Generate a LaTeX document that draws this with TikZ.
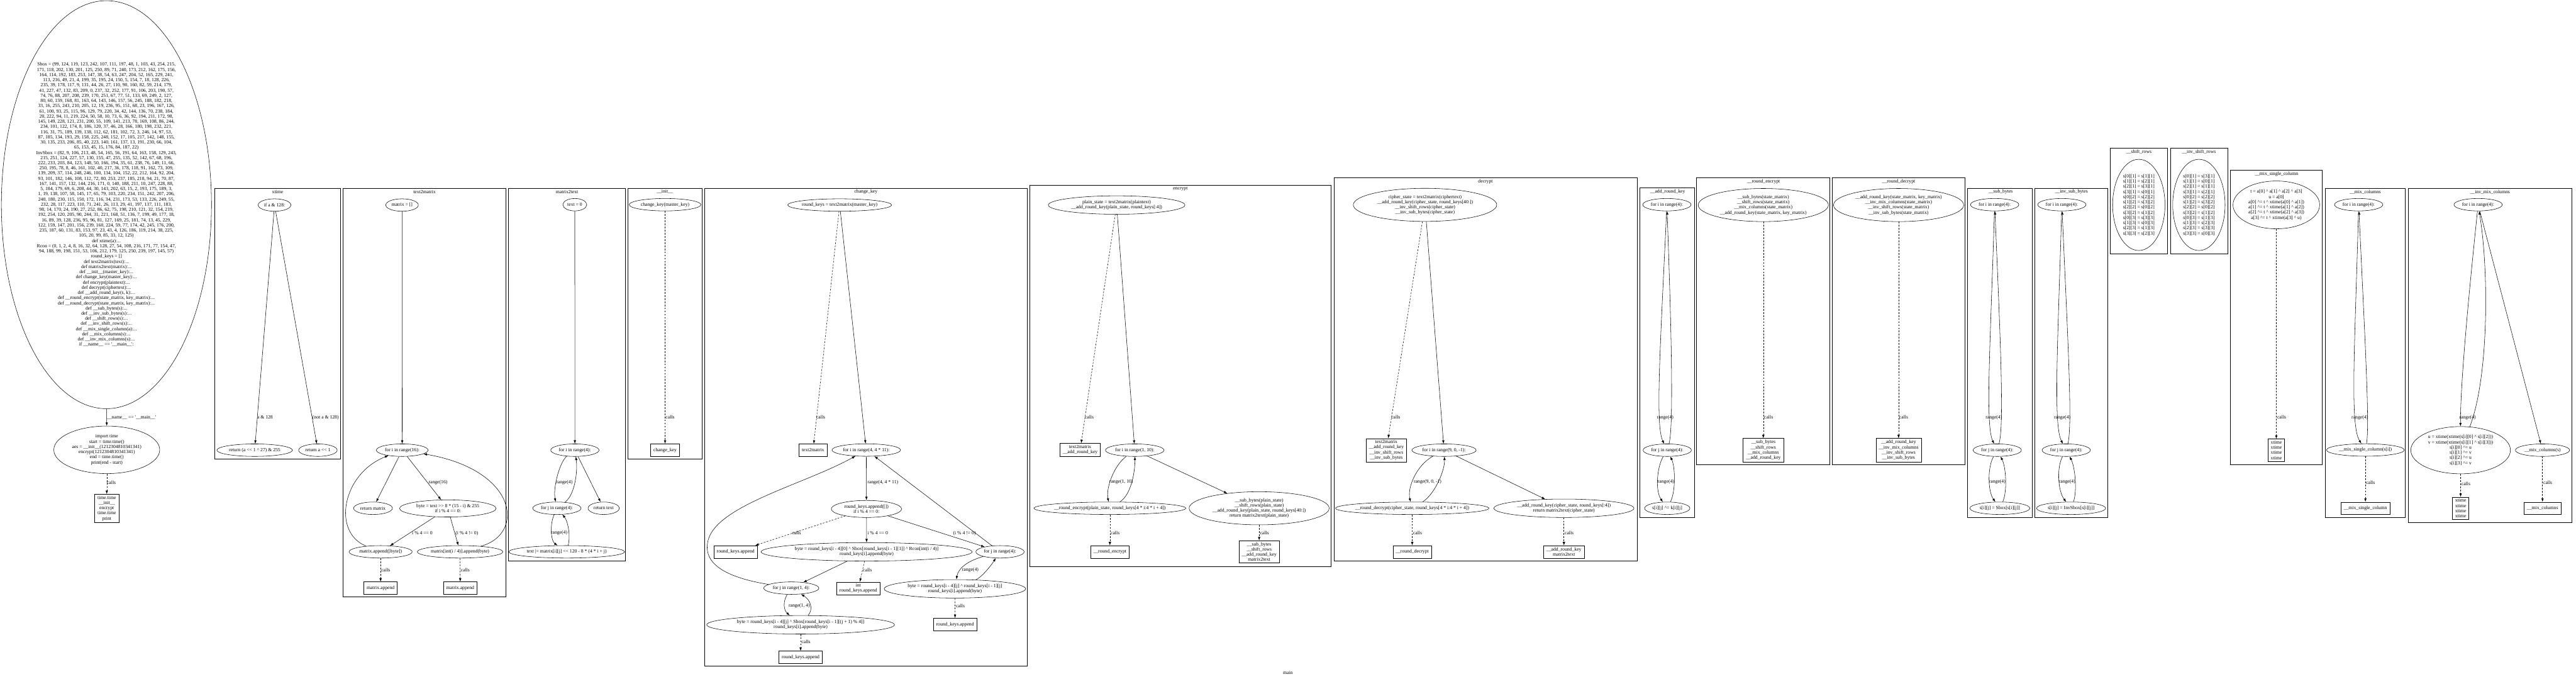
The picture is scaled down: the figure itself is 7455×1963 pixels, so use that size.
\documentclass[tikz,border=0pt]{standalone}
\usepackage{fontspec}
\setmainfont{Liberation Serif}[Ligatures=TeXOff]
\usetikzlibrary{arrows.meta,shapes.geometric}
\newcommand{\xorsym}{\textasciicircum}

\begin{document}
\begin{tikzpicture}[
  x=1bp, y=-1bp,
  every node/.style={font=\fontsize{14bp}{15bp}\selectfont},
  stmt/.style={draw, ellipse, align=center, inner xsep=3bp, inner ysep=5bp,
               minimum height=36bp, minimum width=54bp, line width=1bp},
  mstmt/.style={stmt, inner xsep=8bp},
  callbox/.style={draw, rectangle, align=center, inner xsep=8bp, inner ysep=5bp,
                  minimum height=36bp, line width=1bp},
  cluster/.style={draw, line width=1bp},
  title/.style={inner sep=0pt},
  lbl/.style={inner sep=0pt, anchor=west},
  arr/.style={-{Latex[length=10bp, width=7bp]}, line width=1bp},
  call/.style={arr, dash pattern=on 5bp off 4bp}
]
\useasboundingbox (0,0) rectangle (7455,1963);

% module level
\node[mstmt, minimum width=608bp, minimum height=1180bp] (mod) at (308,592) {Sbox = (99, 124, 119, 123, 242, 107, 111, 197, 48, 1, 103, 43, 254, 215,\\
171, 118, 202, 130, 201, 125, 250, 89, 71, 240, 173, 212, 162, 175, 156,\\
164, 114, 192, 183, 253, 147, 38, 54, 63, 247, 204, 52, 165, 229, 241,\\
113, 216, 49, 21, 4, 199, 35, 195, 24, 150, 5, 154, 7, 18, 128, 226,\\
235, 39, 178, 117, 9, 131, 44, 26, 27, 110, 90, 160, 82, 59, 214, 179,\\
41, 227, 47, 132, 83, 209, 0, 237, 32, 252, 177, 91, 106, 203, 190, 57,\\
74, 76, 88, 207, 208, 239, 170, 251, 67, 77, 51, 133, 69, 249, 2, 127,\\
80, 60, 159, 168, 81, 163, 64, 143, 146, 157, 56, 245, 188, 182, 218,\\
33, 16, 255, 243, 210, 205, 12, 19, 236, 95, 151, 68, 23, 196, 167, 126,\\
61, 100, 93, 25, 115, 96, 129, 79, 220, 34, 42, 144, 136, 70, 238, 184,\\
20, 222, 94, 11, 219, 224, 50, 58, 10, 73, 6, 36, 92, 194, 211, 172, 98,\\
145, 149, 228, 121, 231, 200, 55, 109, 141, 213, 78, 169, 108, 86, 244,\\
234, 101, 122, 174, 8, 186, 120, 37, 46, 28, 166, 180, 198, 232, 221,\\
116, 31, 75, 189, 139, 138, 112, 62, 181, 102, 72, 3, 246, 14, 97, 53,\\
87, 185, 134, 193, 29, 158, 225, 248, 152, 17, 105, 217, 142, 148, 155,\\
30, 135, 233, 206, 85, 40, 223, 140, 161, 137, 13, 191, 230, 66, 104,\\
65, 153, 45, 15, 176, 84, 187, 22)\\
InvSbox = (82, 9, 106, 213, 48, 54, 165, 56, 191, 64, 163, 158, 129, 243,\\
215, 251, 124, 227, 57, 130, 155, 47, 255, 135, 52, 142, 67, 68, 196,\\
222, 233, 203, 84, 123, 148, 50, 166, 194, 35, 61, 238, 76, 149, 11, 66,\\
250, 195, 78, 8, 46, 161, 102, 40, 217, 36, 178, 118, 91, 162, 73, 109,\\
139, 209, 37, 114, 248, 246, 100, 134, 104, 152, 22, 212, 164, 92, 204,\\
93, 101, 182, 146, 108, 112, 72, 80, 253, 237, 185, 218, 94, 21, 70, 87,\\
167, 141, 157, 132, 144, 216, 171, 0, 140, 188, 211, 10, 247, 228, 88,\\
5, 184, 179, 69, 6, 208, 44, 30, 143, 202, 63, 15, 2, 193, 175, 189, 3,\\
1, 19, 138, 107, 58, 145, 17, 65, 79, 103, 220, 234, 151, 242, 207, 206,\\
240, 180, 230, 115, 150, 172, 116, 34, 231, 173, 53, 133, 226, 249, 55,\\
232, 28, 117, 223, 110, 71, 241, 26, 113, 29, 41, 197, 137, 111, 183,\\
98, 14, 170, 24, 190, 27, 252, 86, 62, 75, 198, 210, 121, 32, 154, 219,\\
192, 254, 120, 205, 90, 244, 31, 221, 168, 51, 136, 7, 199, 49, 177, 18,\\
16, 89, 39, 128, 236, 95, 96, 81, 127, 169, 25, 181, 74, 13, 45, 229,\\
122, 159, 147, 201, 156, 239, 160, 224, 59, 77, 174, 42, 245, 176, 200,\\
235, 187, 60, 131, 83, 153, 97, 23, 43, 4, 126, 186, 119, 214, 38, 225,\\
105, 20, 99, 85, 33, 12, 125)\\
def xtime(a):...\\
Rcon = (0, 1, 2, 4, 8, 16, 32, 64, 128, 27, 54, 108, 216, 171, 77, 154, 47,\\
94, 188, 99, 198, 151, 53, 106, 212, 179, 125, 250, 239, 197, 145, 57)\\
round\_keys = []\\
def text2matrix(text):...\\
def matrix2text(matrix):...\\
def \_\_init\_\_(master\_key):...\\
def change\_key(master\_key):...\\
def encrypt(plaintext):...\\
def decrypt(ciphertext):...\\
def \_\_add\_round\_key(s, k):...\\
def \_\_round\_encrypt(state\_matrix, key\_matrix):...\\
def \_\_round\_decrypt(state\_matrix, key\_matrix):...\\
def \_\_sub\_bytes(s):...\\
def \_\_inv\_sub\_bytes(s):...\\
def \_\_shift\_rows(s):...\\
def \_\_inv\_shift\_rows(s):...\\
def \_\_mix\_single\_column(a):...\\
def \_\_mix\_columns(s):...\\
def \_\_inv\_mix\_columns(s):...\\
if \_\_name\_\_ == '\_\_main\_\_':};
\node[mstmt] (mainblk) at (309,1301) {import time\\start = time.time()\\aes = \_\_init\_\_(1212304810341341)\\encrypt(1212304810341341)\\end = time.time()\\print(end - start)};
\node[callbox] (maincalls) at (309,1470.5) {time.time\\\_\_init\_\_\\encrypt\\time.time\\print};
\draw[arr] (mod) -- (mainblk) node[lbl] at (309,1207) {\_\_name\_\_ == '\_\_main\_\_'};
\draw[call] (mainblk) -- (maincalls) node[lbl] at (309,1396) {calls};

% xtime
\draw[cluster] (621.6,544) rectangle (985.5,1328);
\node[title] (t-xtime) at (803.5,555.5) {xtime};
\node[stmt] (xt-if) at (794.5,593) {if a \& 128:};
\node[stmt] (xt-r1) at (737,1302) {return (a << 1 \xorsym{} 27) \& 255};
\node[stmt] (xt-r2) at (920,1302) {return a << 1};
\draw[arr] (xt-if) -- (xt-r1) node[lbl] at (744,1207) {a \& 128};
\draw[arr] (xt-if) -- (xt-r2) node[lbl] at (904,1207) {(not a \& 128)};

% text2matrix
\draw[cluster] (993,544) rectangle (1464,1726.5);
\node[title] (t-t2m) at (1228.5,555.5) {text2matrix};
\node[stmt] (t2m-init) at (1163.5,593) {matrix = []};
\node[stmt] (t2m-for) at (1164,1302) {for i in range(16):};
\node[stmt] (t2m-ret) at (1079.5,1470) {return matrix};
\node[mstmt] (t2m-byte) at (1296,1470.5) {byte = text >> 8 * (15 - i) \& 255\\if i \% 4 == 0:};
\node[stmt] (t2m-app1) at (1101.5,1596) {matrix.append([byte])};
\node[stmt] (t2m-app2) at (1331.5,1596) {matrix[int(i / 4)].append(byte)};
\node[callbox] (t2m-c1) at (1101.5,1701) {matrix.append};
\node[callbox] (t2m-c2) at (1332,1701) {matrix.append};
\draw[arr] (t2m-init) -- (t2m-for);
\draw[arr] (t2m-for) -- (t2m-ret);
\draw[arr] (t2m-for) -- (t2m-byte) node[lbl] at (1240,1396) {range(16)};
\draw[arr] (t2m-byte) -- (t2m-app1) node[lbl] at (1192,1542) {i \% 4 == 0};
\draw[arr] (t2m-byte) -- (t2m-app2) node[lbl] at (1318,1542) {(i \% 4 != 0)};
\draw[arr] (t2m-app1) .. controls (960,1540) and (990,1370) .. (t2m-for);
\draw[arr] (t2m-app2) .. controls (1520,1545) and (1500,1360) .. (t2m-for);
\draw[call] (t2m-app1) -- (t2m-c1) node[lbl] at (1103,1648) {calls};
\draw[call] (t2m-app2) -- (t2m-c2) node[lbl] at (1333,1648) {calls};

% matrix2text
\draw[cluster] (1472,545) rectangle (1810,1622);
\node[title] (t-m2t) at (1641,554.5) {matrix2text};
\node[stmt] (m2t-init) at (1663.5,592) {text = 0};
\node[stmt] (m2t-fori) at (1663.7,1302) {for i in range(4):};
\node[stmt] (m2t-forj) at (1611.7,1470) {for j in range(4):};
\node[stmt] (m2t-ret) at (1747,1470) {return text};
\node[stmt] (m2t-acc) at (1640,1596) {text |= matrix[i][j] << 120 - 8 * (4 * i + j)};
\draw[arr] (m2t-init) -- (m2t-fori);
\draw[arr] (m2t-fori) .. controls (1620,1335) and (1600,1410) .. (m2t-forj) node[lbl] at (1609,1395) {range(4)};
\draw[arr] (m2t-forj) .. controls (1665,1430) and (1672,1360) .. (m2t-fori);
\draw[arr] (m2t-fori) -- (m2t-ret);
\draw[arr] (m2t-forj) .. controls (1590,1520) and (1595,1565) .. (m2t-acc) node[lbl] at (1594,1541) {range(4)};
\draw[arr] (m2t-acc) .. controls (1652,1545) and (1642,1505) .. (m2t-forj);

% __init__
\draw[cluster] (1817,545) rectangle (2031,1327);
\node[title] (t-init) at (1924,554.5) {\_\_init\_\_};
\node[stmt] (init-ck) at (1924.7,592) {change\_key(master\_key)};
\node[callbox] (init-c) at (1924.7,1302) {change\_key};
\draw[call] (init-ck) -- (init-c) node[lbl] at (1926,1206) {calls};

% change_key
\draw[cluster] (2039.6,544) rectangle (2973,1927);
\node[title] (t-ck) at (2506,555) {change\_key};
\node[stmt, inner xsep=-3bp] (ck-t2m) at (2430,593) {round\_keys = text2matrix(master\_key)};
\node[callbox] (ck-c0) at (2353,1302) {text2matrix};
\node[stmt] (ck-fori) at (2507,1301.6) {for i in range(4, 4 * 11):};
\node[mstmt] (ck-app) at (2507.5,1472) {round\_keys.append([])\\if i \% 4 == 0:};
\node[callbox] (ck-c1) at (2129,1596) {round\_keys.append};
\node[mstmt] (ck-b0) at (2508,1596) {byte = round\_keys[i - 4][0] \xorsym{} Sbox[round\_keys[i - 1][1]] \xorsym{} Rcon[int(i / 4)]\\round\_keys[i].append(byte)};
\node[stmt] (ck-forj) at (2894,1596) {for j in range(4):};
\node[mstmt] (ck-b2) at (2763.5,1703) {byte = round\_keys[i - 4][j] \xorsym{} round\_keys[i - 1][j]\\round\_keys[i].append(byte)};
\node[callbox] (ck-c4) at (2764,1806) {round\_keys.append};
\node[callbox] (ck-c2) at (2484,1702) {int\\round\_keys.append};
\node[stmt] (ck-forj1) at (2290,1701) {for j in range(1, 4):};
\node[mstmt] (ck-b1) at (2317,1807) {byte = round\_keys[i - 4][j] \xorsym{} Sbox[round\_keys[i - 1][(j + 1) \% 4]]\\round\_keys[i].append(byte)};
\node[callbox] (ck-c3) at (2317,1901) {round\_keys.append};
\draw[call] (ck-t2m) -- (ck-c0) node[lbl] at (2362,1206) {calls};
\draw[arr] (ck-t2m) -- (ck-fori);
\draw[arr] (ck-fori) -- (ck-app) node[lbl] at (2510,1395) {range(4, 4 * 11)};
\draw[call] (ck-app) -- (ck-c1) node[lbl] at (2292,1542) {calls};
\draw[arr] (ck-app) -- (ck-b0) node[lbl] at (2510,1542) {i \% 4 == 0};
\draw[arr] (ck-app) -- (ck-forj) node[lbl] at (2758,1542) {(i \% 4 != 0)};
\draw[arr] (ck-forj) -- (ck-fori);
\draw[arr] (ck-forj) .. controls (2790,1625) and (2772,1650) .. (ck-b2) node[lbl] at (2784,1648) {range(4)};
\draw[arr] (ck-b2) .. controls (2840,1670) and (2865,1640) .. (ck-forj);
\draw[call] (ck-b2) -- (ck-c4) node[lbl] at (2766,1752) {calls};
\draw[arr] (ck-b0) -- (ck-forj1);
\draw[call] (ck-b0) -- (ck-c2) node[lbl] at (2497,1648) {calls};
\draw[arr] (ck-forj1) .. controls (2100,1670) and (2030,1630) .. (2050,1560)
  .. controls (2080,1460) and (2330,1400) .. (ck-fori);
\draw[arr] (ck-forj1) .. controls (2265,1740) and (2268,1765) .. (ck-b1) node[lbl] at (2282,1752) {range(1, 4)};
\draw[arr] (ck-b1) .. controls (2355,1760) and (2345,1735) .. (ck-forj1);
\draw[call] (ck-b1) -- (ck-c3) node[lbl] at (2319,1857) {calls};

% encrypt
\draw[cluster] (2980.7,535) rectangle (3851,1638);
\node[title] (t-enc) at (3416,546) {encrypt};
\node[mstmt] (enc-init) at (3231.5,593) {plain\_state = text2matrix(plaintext)\\\_\_add\_round\_key(plain\_state, round\_keys[:4])};
\node[callbox] (enc-c0) at (3126,1301) {text2matrix\\\_\_add\_round\_key};
\node[stmt] (enc-for) at (3284,1302) {for i in range(1, 10):};
\node[stmt, inner xsep=-6bp] (enc-rc) at (3212,1470) {\_\_round\_encrypt(plain\_state, round\_keys[4 * i:4 * i + 4])};
\node[mstmt] (enc-fin) at (3644,1470) {\_\_sub\_bytes(plain\_state)\\\_\_shift\_rows(plain\_state)\\\_\_add\_round\_key(plain\_state, round\_keys[40:])\\return matrix2text(plain\_state)};
\node[callbox] (enc-c1) at (3212,1596) {\_\_round\_encrypt};
\node[callbox] (enc-c2) at (3644,1596) {\_\_sub\_bytes\\\_\_shift\_rows\\\_\_add\_round\_key\\matrix2text};
\draw[call] (enc-init) -- (enc-c0) node[lbl] at (3139,1207) {calls};
\draw[arr] (enc-init) -- (enc-for);
\draw[arr] (enc-for) .. controls (3225,1345) and (3200,1410) .. (enc-rc) node[lbl] at (3210,1394) {range(1, 10)};
\draw[arr] (enc-rc) .. controls (3275,1430) and (3285,1360) .. (enc-for);
\draw[arr] (enc-for) -- (enc-fin);
\draw[call] (enc-rc) -- (enc-c1) node[lbl] at (3214,1542) {calls};
\draw[call] (enc-fin) -- (enc-c2) node[lbl] at (3646,1542) {calls};

% decrypt
\draw[cluster] (3860,513.5) rectangle (4738.8,1623);
\node[title] (t-dec) at (4299,525.5) {decrypt};
\node[mstmt] (dec-init) at (4124,592.5) {cipher\_state = text2matrix(ciphertext)\\\_\_add\_round\_key(cipher\_state, round\_keys[40:])\\\_\_inv\_shift\_rows(cipher\_state)\\\_\_inv\_sub\_bytes(cipher\_state)};
\node[callbox] (dec-c0) at (4012,1302) {text2matrix\\\_\_add\_round\_key\\\_\_inv\_shift\_rows\\\_\_inv\_sub\_bytes};
\node[stmt] (dec-for) at (4179,1302) {for i in range(9, 0, -1):};
\node[stmt, inner xsep=-8bp] (dec-rc) at (4087,1470) {\_\_round\_decrypt(cipher\_state, round\_keys[4 * i:4 * i + 4])};
\node[mstmt] (dec-fin) at (4526,1470) {\_\_add\_round\_key(cipher\_state, round\_keys[:4])\\return matrix2text(cipher\_state)};
\node[callbox] (dec-c1) at (4087,1596) {\_\_round\_decrypt};
\node[callbox] (dec-c2) at (4526,1596) {\_\_add\_round\_key\\matrix2text};
\draw[call] (dec-init) -- (dec-c0) node[lbl] at (4026,1207) {calls};
\draw[arr] (dec-init) -- (dec-for);
\draw[arr] (dec-for) .. controls (4100,1345) and (4072,1410) .. (dec-rc) node[lbl] at (4091,1394) {range(9, 0, -1)};
\draw[arr] (dec-rc) .. controls (4152,1430) and (4182,1360) .. (dec-for);
\draw[arr] (dec-for) -- (dec-fin);
\draw[call] (dec-rc) -- (dec-c1) node[lbl] at (4089,1542) {calls};
\draw[call] (dec-fin) -- (dec-c2) node[lbl] at (4528,1542) {calls};

% __add_round_key
\draw[cluster] (4746,543) rectangle (4903,1496);
\node[title] (t-ark) at (4826,555) {\_\_add\_round\_key};
\node[stmt] (ark-fori) at (4824,592) {for i in range(4):};
\node[stmt] (ark-forj) at (4825,1302) {for j in range(4):};
\node[stmt] (ark-body) at (4825,1470) {s[i][j] \xorsym{}= k[i][j]};
\draw[arr] (ark-fori) .. controls (4805,1000) and (4790,1230) .. (ark-forj) node[lbl] at (4795,1207) {range(4)};
\draw[arr] (ark-forj) .. controls (4845,1230) and (4835,900) .. (ark-fori);
\draw[arr] (ark-forj) .. controls (4795,1350) and (4790,1420) .. (ark-body) node[lbl] at (4797,1394) {range(4)};
\draw[arr] (ark-body) .. controls (4850,1420) and (4848,1350) .. (ark-forj);

% __round_encrypt
\draw[cluster] (4910,513) rectangle (5295,1344);
\node[title] (t-re) at (5103.6,525) {\_\_round\_encrypt};
\node[mstmt] (re-body) at (5103,593) {\_\_sub\_bytes(state\_matrix)\\\_\_shift\_rows(state\_matrix)\\\_\_mix\_columns(state\_matrix)\\\_\_add\_round\_key(state\_matrix, key\_matrix)};
\node[callbox] (re-c) at (5103,1302) {\_\_sub\_bytes\\\_\_shift\_rows\\\_\_mix\_columns\\\_\_add\_round\_key};
\draw[call] (re-body) -- (re-c) node[lbl] at (5105,1207) {calls};

% __round_decrypt
\draw[cluster] (5302.7,513) rectangle (5686.7,1344);
\node[title] (t-rd) at (5494.7,525) {\_\_round\_decrypt};
\node[mstmt] (rd-body) at (5494.5,593) {\_\_add\_round\_key(state\_matrix, key\_matrix)\\\_\_inv\_mix\_columns(state\_matrix)\\\_\_inv\_shift\_rows(state\_matrix)\\\_\_inv\_sub\_bytes(state\_matrix)};
\node[callbox] (rd-c) at (5494.5,1302) {\_\_add\_round\_key\\\_\_inv\_mix\_columns\\\_\_inv\_shift\_rows\\\_\_inv\_sub\_bytes};
\draw[call] (rd-body) -- (rd-c) node[lbl] at (5496,1207) {calls};

% __sub_bytes
\draw[cluster] (5694.5,544) rectangle (5880.7,1496);
\node[title] (t-sb) at (5790,555) {\_\_sub\_bytes};
\node[stmt] (sb-fori) at (5772.5,592) {for i in range(4):};
\node[stmt] (sb-forj) at (5780,1302) {for j in range(4):};
\node[stmt] (sb-body) at (5787.6,1470) {s[i][j] = Sbox[s[i][j]]};
\draw[arr] (sb-fori) .. controls (5760,1000) and (5745,1230) .. (sb-forj) node[lbl] at (5746,1207) {range(4)};
\draw[arr] (sb-forj) .. controls (5800,1230) and (5790,1000) .. (sb-fori);
\draw[arr] (sb-forj) .. controls (5752,1350) and (5752,1420) .. (sb-body) node[lbl] at (5756,1394) {range(4)};
\draw[arr] (sb-body) .. controls (5810,1420) and (5805,1350) .. (sb-forj);

% __inv_sub_bytes
\draw[cluster] (5888.6,544) rectangle (6099,1496);
\node[title] (t-isb) at (5994.7,555) {\_\_inv\_sub\_bytes};
\node[stmt] (isb-fori) at (5967,592) {for i in range(4):};
\node[stmt] (isb-forj) at (5979.7,1302) {for j in range(4):};
\node[stmt] (isb-body) at (5993.8,1470) {s[i][j] = InvSbox[s[i][j]]};
\draw[arr] (isb-fori) .. controls (5955,1000) and (5942,1230) .. (isb-forj) node[lbl] at (5944,1207) {range(4)};
\draw[arr] (isb-forj) .. controls (5998,1230) and (5985,1000) .. (isb-fori);
\draw[arr] (isb-forj) .. controls (5952,1350) and (5955,1420) .. (isb-body) node[lbl] at (5958,1394) {range(4)};
\draw[arr] (isb-body) .. controls (6012,1420) and (6005,1350) .. (isb-forj);

% __shift_rows
\draw[cluster] (6106.7,428.7) rectangle (6272.5,733.8);
\node[title] (t-sr) at (6190,440) {\_\_shift\_rows};
\node[mstmt] (sr-body) at (6189.7,592.6) {s[0][1] = s[1][1]\\s[1][1] = s[2][1]\\s[2][1] = s[3][1]\\s[3][1] = s[0][1]\\s[0][2] = s[2][2]\\s[1][2] = s[3][2]\\s[2][2] = s[0][2]\\s[3][2] = s[1][2]\\s[0][3] = s[3][3]\\s[1][3] = s[0][3]\\s[2][3] = s[1][3]\\s[3][3] = s[2][3]};

% __inv_shift_rows
\draw[cluster] (6280.8,428.7) rectangle (6446.4,733.8);
\node[title] (t-isr) at (6363.6,440) {\_\_inv\_shift\_rows};
\node[mstmt] (isr-body) at (6363.6,592.6) {s[0][1] = s[3][1]\\s[1][1] = s[0][1]\\s[2][1] = s[1][1]\\s[3][1] = s[2][1]\\s[0][2] = s[2][2]\\s[1][2] = s[3][2]\\s[2][2] = s[0][2]\\s[3][2] = s[1][2]\\s[0][3] = s[1][3]\\s[1][3] = s[2][3]\\s[2][3] = s[3][3]\\s[3][3] = s[0][3]};

% __mix_single_column
\draw[cluster] (6454,491.8) rectangle (6720.5,1344);
\node[title] (t-msc) at (6588,502.8) {\_\_mix\_single\_column};
\node[mstmt] (msc-body) at (6587.7,592.6) {t = a[0] \xorsym{} a[1] \xorsym{} a[2] \xorsym{} a[3]\\u = a[0]\\a[0] \xorsym{}= t \xorsym{} xtime(a[0] \xorsym{} a[1])\\a[1] \xorsym{}= t \xorsym{} xtime(a[1] \xorsym{} a[2])\\a[2] \xorsym{}= t \xorsym{} xtime(a[2] \xorsym{} a[3])\\a[3] \xorsym{}= t \xorsym{} xtime(a[3] \xorsym{} u)};
\node[callbox] (msc-c) at (6587.6,1302) {xtime\\xtime\\xtime\\xtime};
\draw[call] (msc-body) -- (msc-c) node[lbl] at (6590,1207) {calls};

% __mix_columns
\draw[cluster] (6728.4,544) rectangle (6960.5,1496);
\node[title] (t-mc) at (6845,555) {\_\_mix\_columns};
\node[stmt] (mc-for) at (6826,592) {for i in range(4):};
\node[stmt] (mc-call) at (6845.5,1301.5) {\_\_mix\_single\_column(s[i])};
\node[callbox] (mc-c) at (6845.5,1470) {\_\_mix\_single\_column};
\draw[arr] (mc-for) .. controls (6815,1000) and (6800,1230) .. (mc-call) node[lbl] at (6805,1207) {range(4)};
\draw[arr] (mc-call) .. controls (6858,1230) and (6845,1000) .. (mc-for);
\draw[call] (mc-call) -- (mc-c) node[lbl] at (6847,1395) {calls};

% __inv_mix_columns
\draw[cluster] (6969,544) rectangle (7442.7,1512);
\node[title] (t-imc) at (7206,555) {\_\_inv\_mix\_columns};
\node[stmt] (imc-for) at (7171.7,592) {for i in range(4):};
\node[mstmt] (imc-uv) at (7121,1302) {u = xtime(xtime(s[i][0] \xorsym{} s[i][2]))\\v = xtime(xtime(s[i][1] \xorsym{} s[i][3]))\\s[i][0] \xorsym{}= u\\s[i][1] \xorsym{}= v\\s[i][2] \xorsym{}= u\\s[i][3] \xorsym{}= v};
\node[stmt] (imc-mc) at (7358,1302) {\_\_mix\_columns(s)};
\node[callbox] (imc-c1) at (7121,1470) {xtime\\xtime\\xtime\\xtime};
\node[callbox] (imc-c2) at (7358,1470) {\_\_mix\_columns};
\draw[arr] (imc-for) .. controls (7150,800) and (7120,1100) .. (imc-uv) node[lbl] at (7117,1207) {range(4)};
\draw[arr] (imc-uv) .. controls (7200,1100) and (7205,800) .. (imc-for);
\draw[arr] (imc-for) -- (imc-mc);
\draw[call] (imc-uv) -- (imc-c1) node[lbl] at (7123,1400) {calls};
\draw[call] (imc-mc) -- (imc-c2) node[lbl] at (7360,1395) {calls};

% graph label
\node (graphname) at (3727,1945) {main};
\end{tikzpicture}
\end{document}
